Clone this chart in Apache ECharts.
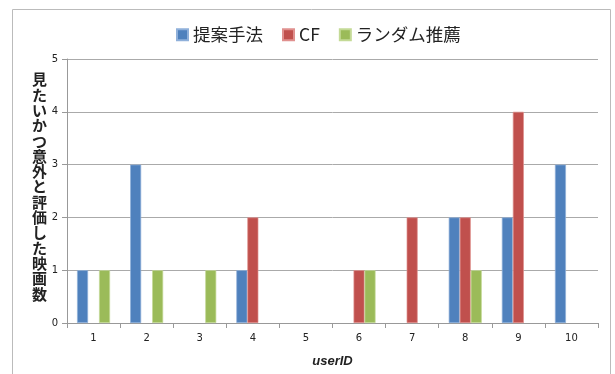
<!DOCTYPE html>
<html><head><meta charset="utf-8">
<script src="https://cdn.jsdelivr.net/npm/echarts@6/dist/echarts.min.js"></script>
<style>html,body{margin:0;padding:0;background:#fff}#c{width:615px;height:374px}</style>
</head><body><div id="c"></div>
<script>
const categories = ['1','2','3','4','5','6','7','8','9','10'];
const seriesNames = ['提案手法','CF','ランダム推薦'];
const proposed = [1,3,0,1,0,0,0,2,2,3];
const cf = [0,0,0,2,0,1,2,2,4,0];
const random = [1,1,1,0,0,1,0,1,0,0];
const colors = ['#4F81BD','#C0504D','#9BBB59'];
const borders = ['#8FB0DA','#E0908E','#C4DA96'];
const yTitle = '見たいかつ意外と評価した映画数';
const values = [proposed, cf, random];

const chart = echarts.init(document.getElementById('c'), null, {renderer:'canvas'});
chart.setOption({
  animation:false,
  backgroundColor:'#fff',
  textStyle:{fontFamily:'"Noto Sans CJK JP","DejaVu Sans",sans-serif'},
  legend:{
    top:21, left:171,
    itemWidth:11, itemHeight:11, itemGap:19,
    icon:'rect',
    textStyle:{fontSize:17.5, color:'#222', fontFamily:'"Noto Sans CJK JP",sans-serif'},
    data:seriesNames
  },
  grid:{left:67, right:17, top:59, bottom:51},
  xAxis:{
    type:'category', data:categories,
    name:'userID', nameLocation:'middle', nameGap:32,
    nameTextStyle:{fontSize:13, fontWeight:'bold', fontStyle:'italic', color:'#222', fontFamily:'"Liberation Sans",sans-serif'},
    axisLine:{lineStyle:{color:'#999'}},
    axisTick:{show:true, length:5, lineStyle:{color:'#999'}},
    axisLabel:{fontSize:10, color:'#222', margin:10, fontFamily:'"DejaVu Sans",sans-serif'}
  },
  yAxis:{
    type:'value', min:0, max:5, interval:1,
    axisLine:{show:true, lineStyle:{color:'#999'}},
    axisTick:{show:true, length:5, lineStyle:{color:'#999'}},
    axisLabel:{fontSize:10, color:'#222', margin:9, fontFamily:'"DejaVu Sans",sans-serif'},
    splitLine:{lineStyle:{color:'#aaa', width:1}}
  },
  graphic:[
    {type:'rect', shape:{x:12.5, y:9.5, width:598, height:380}, style:{fill:'none', stroke:'#bbb', lineWidth:1}, silent:true},
    {type:'text', left:32, top:72, style:{text:yTitle.split('').join('\n'), fontSize:15, lineHeight:15.3, fontWeight:'bold', fill:'#222', fontFamily:'"Noto Sans CJK JP",sans-serif', align:'left'}}
  ],
  series: seriesNames.map((n,i)=>({
    name:n, type:'bar', data:values[i].map(v => v === 0 ? null : v), barWidth:11, barGap:'0%',
    itemStyle:{color:colors[i], borderColor:borders[i], borderWidth:0.7}
  }))
});
</script></body></html>
